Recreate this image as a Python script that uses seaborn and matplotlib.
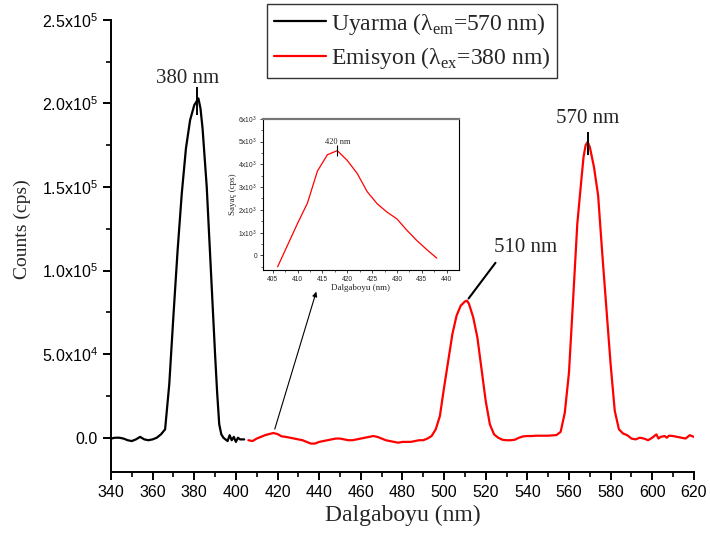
import numpy as np
import seaborn as sns
import matplotlib.pyplot as plt
from matplotlib.ticker import MultipleLocator, FixedLocator

# --- data ---
exc_nm = [340, 342, 344, 346, 348, 350, 352, 354, 356, 358, 360, 362, 364, 366,
          368, 370, 372, 374, 376, 378, 380, 382, 383, 384, 386, 388, 390, 391,
          392, 393, 394, 396, 397, 398, 399, 400, 401, 402, 404]
exc_cps = [-500, 0, 0, -500, -1500, -2000, -1000, 500, -1000, -1500, -1000, 0, 2000, 5000,
           32000, 73000, 112000, 146000, 173000, 190000, 199000, 203000, 197000, 185000,
           150000, 100000, 50000, 27000, 8000, 2000, 0, -2000, 1500, -1500, 500, -2500,
           0, -1000, -1000]

em_nm = [406, 408, 410, 412, 414, 416, 418, 420, 422, 424, 426, 428, 430, 432, 434,
         436, 438, 440, 442, 444, 446, 448, 450, 452, 454, 456, 458, 460, 462, 464,
         466, 468, 470, 472, 474, 476, 478, 480, 482, 484, 486, 488, 490, 492, 494,
         496, 498, 500, 502, 504, 506, 508, 510, 511, 512, 514, 516, 518, 520, 522,
         524, 526, 528, 530, 532, 534, 536, 538, 540, 542, 544, 546, 548, 550, 552,
         554, 556, 558, 560, 562, 564, 566, 567, 568, 569, 570, 572, 574, 576, 578,
         580, 582, 584, 586, 588, 590, 592, 594, 596, 598, 600, 602, 603, 604, 606,
         607, 608, 610, 612, 614, 616, 618, 620]
em_cps = [-1500, -2000, -500, 500, 1500, 2200, 2800, 2200, 800, 500, 0, -500, -1000,
          -1500, -2500, -3500, -3500, -2500, -2000, -1500, -1000, -500, -500, -1000,
          -1500, -1500, -1000, -500, 0, 500, 1000, 500, -500, -1500, -2000, -2500,
          -3000, -2500, -2500, -2500, -2000, -1500, -1500, -500, 1000, 5000, 13000,
          30000, 46000, 62000, 73000, 79000, 81500, 82000, 80000, 72000, 60000, 41000,
          22000, 8000, 2000, 0, -1200, -1500, -1500, -1200, 0, 800, 1000, 1000, 1200,
          1200, 1200, 1200, 1400, 1600, 3500, 15000, 39000, 83000, 128000, 155000,
          168000, 175000, 177000, 174000, 162000, 145000, 110000, 77000, 44000, 16000,
          5000, 2500, 1500, -500, -1000, 0, -500, -1500, 0, 2000, -500, 500, 1000, 0,
          1200, 1000, 500, 0, -500, 1500, 500]

# zoom of the emission band around 420 nm (inset)
zoom_nm = [406, 408, 410, 412, 414, 416, 418, 420, 422, 424, 426, 428, 430, 432,
           434, 436, 438]
zoom_cps = [-500, 450, 1400, 2300, 3700, 4420, 4600, 4170, 3600, 2800, 2270, 1900,
            1600, 1100, 650, 250, -120]

main_yticks = [0, 50000, 100000, 150000, 200000, 250000]
main_ylabels = ['0.0', '5.0x10$^{\\mathsf{4}}$', '1.0x10$^{\\mathsf{5}}$',
                '1.5x10$^{\\mathsf{5}}$', '2.0x10$^{\\mathsf{5}}$', '2.5x10$^{\\mathsf{5}}$']
inset_yticks = [0, 1000, 2000, 3000, 4000, 5000, 6000]
inset_ylabels = ['0'] + [f'{i}x10$^{{\\mathsf{{3}}}}$' for i in range(1, 7)]

sns.set_style('ticks')
plt.rcParams['font.family'] = ['Liberation Serif', 'DejaVu Serif']
plt.rcParams['mathtext.fontset'] = 'custom'
plt.rcParams['mathtext.rm'] = 'Liberation Serif'
plt.rcParams['mathtext.sf'] = 'Liberation Sans'

fig = plt.figure(figsize=(7.1, 5.35), dpi=100)
ax = fig.add_axes([0.1563, 0.1178, 0.821, 0.845])

sns.lineplot(x=exc_nm, y=exc_cps, ax=ax, color='black', lw=1.6,
             label='Uyarma (λ$_{\\mathrm{em}}$=570 nm)')
sns.lineplot(x=em_nm, y=em_cps, ax=ax, color='#ff0000', lw=1.6,
             label='Emisyon (λ$_{\\mathrm{ex}}$=380 nm)')

ax.set_xlim(340, 620)
ax.set_ylim(-20500, 250000)
ax.xaxis.set_major_locator(MultipleLocator(20))
ax.xaxis.set_minor_locator(MultipleLocator(10))
ax.yaxis.set_major_locator(FixedLocator(main_yticks))
ax.yaxis.set_minor_locator(MultipleLocator(25000))
ax.set_yticklabels(main_ylabels)
for sp in ['top', 'right']:
    ax.spines[sp].set_visible(False)
for sp in ['left', 'bottom']:
    ax.spines[sp].set_linewidth(1.4)
    ax.spines[sp].set_color('black')
ax.tick_params(which='major', direction='out', length=6, width=1.4, colors='black',
               labelsize=11.5)
ax.tick_params(which='minor', direction='out', length=3.5, width=1.2, colors='black')
for lab in ax.get_xticklabels() + ax.get_yticklabels():
    lab.set_fontfamily('Liberation Sans')
ax.set_xlabel('Dalgaboyu (nm)', fontsize=17, labelpad=3)
ax.set_ylabel('Counts (cps)', fontsize=14)
ax.yaxis.set_label_coords(-0.137, 145500 / 270500)

# peak labels
ex_i = int(np.argmax(exc_cps))
ax.vlines(exc_nm[ex_i] - 0.5, exc_cps[ex_i] - 10000, exc_cps[ex_i] + 7000, color='black', lw=1.4)
ax.text(377, 215000, '380 nm', fontsize=15, ha='center', va='center')

em570 = em_nm.index(569)
ax.vlines(em_nm[em570], em_cps[em570] - 8000, em_cps[em570] + 6000, color='black', lw=1.4)
ax.text(569, 191000, '570 nm', fontsize=15, ha='center', va='center')

em510 = em_nm.index(511)
ax.annotate('', xy=(em_nm[em510], em_cps[em510]), xytext=(525.5, 106000),
            arrowprops=dict(arrowstyle='-', color='black', lw=1.5))
ax.text(539, 114000, '510 nm', fontsize=15, ha='center', va='center')

# arrow from the small band to the inset
ax.annotate('', xy=(439, 89000), xytext=(418.3, 3600),
            arrowprops=dict(arrowstyle='-|>', color='black', lw=0.8, mutation_scale=7))

leg = ax.legend(loc='lower left', bbox_to_anchor=(267 / 710, 1 - 78 / 535),
                bbox_transform=fig.transFigure, fontsize=17, frameon=True,
                fancybox=False, handlelength=2.2, handletextpad=0.2,
                labelspacing=0.35, borderpad=0.3, borderaxespad=0)
leg.get_frame().set_edgecolor('black')
leg.get_frame().set_linewidth(1.0)
for h in leg.get_lines():
    h.set_linewidth(1.6)

# inset
ax_in = fig.add_axes([0.370, 0.495, 0.276, 0.283])
sns.lineplot(x=zoom_nm, y=zoom_cps, ax=ax_in, color='#ff0000', lw=0.9)
ax_in.set_xlim(403, 442.4)
ax_in.set_ylim(-650, 6000)
ax_in.xaxis.set_major_locator(MultipleLocator(5))
ax_in.xaxis.set_minor_locator(MultipleLocator(2.5))
ax_in.yaxis.set_major_locator(FixedLocator(inset_yticks))
ax_in.yaxis.set_minor_locator(MultipleLocator(500))
ax_in.set_yticklabels(inset_ylabels)
ax_in.tick_params(which='major', direction='out', length=2.5, width=0.6, labelsize=4.8, pad=1.5)
ax_in.tick_params(which='minor', direction='out', length=1.5, width=0.5)
for lab in ax_in.get_xticklabels() + ax_in.get_yticklabels():
    lab.set_fontfamily('Liberation Sans')
for sp in ax_in.spines.values():
    sp.set_linewidth(0.8)
    sp.set_color('black')
ax_in.spines['top'].set_color('#777777')
ax_in.spines['top'].set_linewidth(1.6)
ax_in.set_xlabel('Dalgaboyu (nm)', fontsize=6.5, labelpad=1)
ax_in.set_ylabel('Sayaç (cps)', fontsize=6.5, labelpad=1)
zi = int(np.argmax(zoom_cps))
ax_in.vlines(zoom_nm[zi], zoom_cps[zi] - 250, zoom_cps[zi] + 250, color='black', lw=0.8)
ax_in.text(418, 5000, '420 nm', fontsize=6, ha='center', va='center')

fig.savefig('out.png', dpi=100)
